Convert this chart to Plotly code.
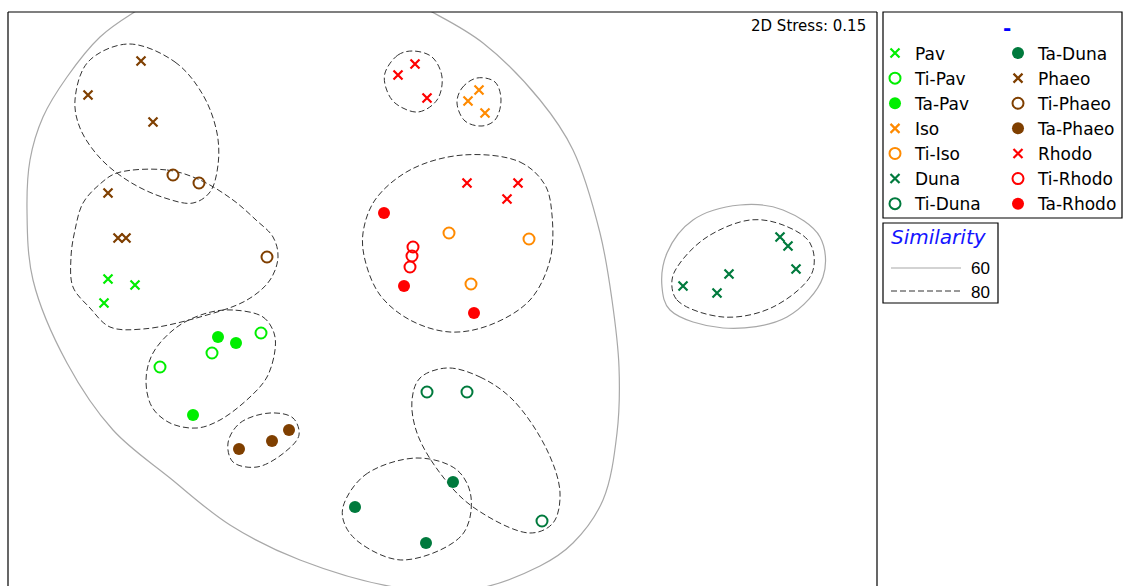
import plotly.graph_objects as go

# ---------------- data (MDS coordinates) ----------------
PAV_X = [-3.32, -3.05, -3.36];            PAV_Y = [0.21, 0.15, -0.03]
TI_PAV_X = [-1.79, -2.28, -2.80];         TI_PAV_Y = [-0.33, -0.53, -0.67]
TA_PAV_X = [-2.22, -2.04, -2.47];         TA_PAV_Y = [-0.37, -0.43, -1.15]
ISO_X = [0.28, 0.39, 0.45];               ISO_Y = [1.99, 2.10, 1.87]
TI_ISO_X = [0.09, 0.89, 0.31];            TI_ISO_Y = [0.67, 0.61, 0.16]
DUNA_X = [3.40, 3.48, 3.56, 2.89, 2.43, 2.77]
DUNA_Y = [0.63, 0.54, 0.31, 0.26, 0.14, 0.07]
TI_DUNA_X = [-0.13, 0.27, 1.02];          TI_DUNA_Y = [-0.92, -0.92, -2.21]
TA_DUNA_X = [0.13, -0.85, -0.14];         TA_DUNA_Y = [-1.82, -2.07, -2.43]
PHAEO_X = [-2.99, -3.52, -2.87, -3.32, -3.22, -3.14]
PHAEO_Y = [2.39, 2.05, 1.78, 1.07, 0.62, 0.62]
TI_PHAEO_X = [-2.67, -2.41, -1.73];       TI_PHAEO_Y = [1.25, 1.17, 0.43]
TA_PHAEO_X = [-2.01, -1.68, -1.51];       TA_PHAEO_Y = [-1.49, -1.41, -1.30]
RHODO_X = [-0.42, -0.25, -0.13, 0.27, 0.78, 0.67]
RHODO_Y = [2.25, 2.36, 2.02, 1.17, 1.17, 1.01]
TI_RHODO_X = [-0.27, -0.28, -0.30];       TI_RHODO_Y = [0.53, 0.44, 0.33]
TA_RHODO_X = [-0.56, -0.36, 0.34];        TA_RHODO_Y = [0.87, 0.14, -0.13]

STRESS = 0.15
SIM_LEVELS = ["60", "80"]

# similarity contours (closed outlines)
CONTOURS_60 = [
    [(-3.07, 2.87), (-3.40, 2.63), (-3.73, 2.23), (-3.97, 1.83), (-4.10, 1.40),
     (-4.13, 0.90), (-4.07, 0.20), (-3.73, -0.63), (-3.27, -1.30), (-2.70, -1.78),
     (-2.10, -2.25), (-1.40, -2.60), (-0.40, -2.88), (0.30, -2.90), (1.00, -2.66),
     (1.33, -2.43), (1.63, -2.00), (1.77, -1.33), (1.79, -0.67), (1.72, 0.00),
     (1.60, 0.67), (1.33, 1.50), (1.00, 2.00), (0.43, 2.57), (-0.08, 2.88),
     (-0.70, 3.18), (-1.60, 3.35), (-2.50, 3.18)],
    [(2.22, 0.13), (2.30, -0.10), (2.83, -0.28), (3.47, -0.17), (3.83, 0.23),
     (3.80, 0.63), (3.43, 0.90), (3.00, 0.95), (2.53, 0.80), (2.27, 0.47)],
]
CONTOURS_80 = [
    [(-3.12, 2.56), (-2.65, 2.38), (-2.37, 2.05), (-2.23, 1.67), (-2.22, 1.35),
     (-2.30, 1.08), (-2.47, 0.97), (-2.75, 1.02), (-3.10, 1.18), (-3.40, 1.42),
     (-3.60, 1.72), (-3.65, 2.00), (-3.52, 2.38)],
    [(-3.23, 1.27), (-2.73, 1.30), (-2.40, 1.20), (-2.07, 1.00), (-1.84, 0.80),
     (-1.67, 0.63), (-1.62, 0.43), (-1.70, 0.20), (-1.93, 0.00), (-2.40, -0.17),
     (-2.97, -0.29), (-3.30, -0.27), (-3.50, -0.08), (-3.67, 0.13), (-3.69, 0.43),
     (-3.65, 0.70), (-3.57, 0.97), (-3.40, 1.16)],
    [(-2.07, -0.10), (-1.77, -0.17), (-1.66, -0.33), (-1.65, -0.50), (-1.73, -0.77),
     (-1.90, -0.97), (-2.20, -1.20), (-2.43, -1.28), (-2.70, -1.23), (-2.88, -1.07),
     (-2.94, -0.80), (-2.87, -0.53), (-2.63, -0.27), (-2.33, -0.13)],
    [(-2.12, -1.43), (-2.00, -1.23), (-1.70, -1.13), (-1.47, -1.18), (-1.41, -1.35),
     (-1.55, -1.52), (-1.83, -1.67), (-2.07, -1.62)],
    [(-0.55, 2.27), (-0.42, 2.45), (-0.27, 2.49), (-0.08, 2.43), (0.02, 2.23),
     (-0.03, 2.00), (-0.22, 1.88), (-0.45, 1.97), (-0.54, 2.12)],
    [(0.17, 1.97), (0.22, 2.12), (0.37, 2.22), (0.55, 2.18), (0.61, 2.00),
     (0.55, 1.80), (0.42, 1.74), (0.25, 1.79)],
    [(0.23, 1.45), (0.80, 1.38), (1.05, 1.15), (1.12, 0.85), (1.10, 0.40),
     (0.90, 0.00), (0.50, -0.25), (0.10, -0.32), (-0.30, -0.20), (-0.60, 0.05),
     (-0.75, 0.40), (-0.77, 0.67), (-0.65, 1.00), (-0.30, 1.30)],
    [(0.07, -0.68), (0.40, -0.77), (0.73, -1.00), (1.07, -1.50), (1.20, -1.93),
     (1.13, -2.23), (0.90, -2.33), (0.33, -2.07), (0.00, -1.73), (-0.23, -1.33),
     (-0.28, -1.00), (-0.20, -0.78)],
    [(-0.97, -2.07), (-0.75, -1.75), (-0.23, -1.58), (0.17, -1.70), (0.31, -1.97),
     (0.22, -2.35), (-0.37, -2.60), (-0.80, -2.43), (-0.95, -2.25)],
    [(2.32, 0.20), (2.37, 0.00), (2.83, -0.17), (3.33, -0.07), (3.72, 0.27),
     (3.70, 0.57), (3.43, 0.75), (3.10, 0.80), (2.67, 0.63), (2.40, 0.37)],
]

# ---------------- styles ----------------
LIME = "#00EE00"
ORANGE = "#FF8A00"
DGREEN = "#007A3D"
BROWN = "#7F3F00"
RED = "#FF0000"
FONT = "DejaVu Sans"

X_SYM = dict(symbol="x-thin-open", size=9, line=dict(width=2.2))
O_SYM = dict(symbol="circle-open", size=11, line=dict(width=2))
F_SYM = dict(symbol="circle", size=12, line=dict(width=0))

groups = [
    ("Pav", PAV_X, PAV_Y, LIME, X_SYM, "legend"),
    ("Ti-Pav", TI_PAV_X, TI_PAV_Y, LIME, O_SYM, "legend"),
    ("Ta-Pav", TA_PAV_X, TA_PAV_Y, LIME, F_SYM, "legend"),
    ("Iso", ISO_X, ISO_Y, ORANGE, X_SYM, "legend"),
    ("Ti-Iso", TI_ISO_X, TI_ISO_Y, ORANGE, O_SYM, "legend"),
    ("Duna", DUNA_X, DUNA_Y, DGREEN, X_SYM, "legend"),
    ("Ti-Duna", TI_DUNA_X, TI_DUNA_Y, DGREEN, O_SYM, "legend"),
    ("Ta-Duna", TA_DUNA_X, TA_DUNA_Y, DGREEN, F_SYM, "legend2"),
    ("Phaeo", PHAEO_X, PHAEO_Y, BROWN, X_SYM, "legend2"),
    ("Ti-Phaeo", TI_PHAEO_X, TI_PHAEO_Y, BROWN, O_SYM, "legend2"),
    ("Ta-Phaeo", TA_PHAEO_X, TA_PHAEO_Y, BROWN, F_SYM, "legend2"),
    ("Rhodo", RHODO_X, RHODO_Y, RED, X_SYM, "legend2"),
    ("Ti-Rhodo", TI_RHODO_X, TI_RHODO_Y, RED, O_SYM, "legend2"),
    ("Ta-Rhodo", TA_RHODO_X, TA_RHODO_Y, RED, F_SYM, "legend2"),
]


def closed_path(contours):
    xs, ys = [], []
    for c in contours:
        pts = list(c) + [c[0]]
        xs += [p[0] for p in pts] + [None]
        ys += [p[1] for p in pts] + [None]
    return xs, ys


fig = go.Figure()

x60, y60 = closed_path(CONTOURS_60)
fig.add_trace(go.Scatter(x=x60, y=y60, mode="lines", name=SIM_LEVELS[0],
                         line=dict(color="#A8A8A8", width=1.2, shape="spline"),
                         showlegend=False, hoverinfo="skip"))
x80, y80 = closed_path(CONTOURS_80)
fig.add_trace(go.Scatter(x=x80, y=y80, mode="lines", name=SIM_LEVELS[1],
                         line=dict(color="#333333", width=1, dash="6px,3px", shape="spline"),
                         showlegend=False, hoverinfo="skip"))

for name, xs, ys, col, sym, leg in groups:
    m = dict(sym)
    m["color"] = col
    m["line"] = dict(sym["line"], color=col)
    fig.add_trace(go.Scatter(x=xs, y=ys, mode="markers", name=name, marker=m,
                             legend=leg, cliponaxis=False))

# ---------------- layout ----------------
W, H = 1123, 586
L, R, T, B = 8, 246, 12, 0
PW, PH = W - L - R, H - T - B


def px(x):
    return (x - L) / PW


def py(y):
    return (H - B - y) / PH


leg_common = dict(xref="paper", yref="paper", xanchor="left", yanchor="top",
                  bgcolor="rgba(0,0,0,0)", borderwidth=0, tracegroupgap=0,
                  font=dict(family=FONT, size=17, color="#000000"))

fig.update_layout(
    width=W, height=H,
    margin=dict(l=L, r=R, t=T, b=B, autoexpand=False),
    paper_bgcolor="white", plot_bgcolor="white",
    xaxis=dict(range=[-4.32, 4.37], showgrid=False, zeroline=False,
               showticklabels=False, showline=False, ticks=""),
    yaxis=dict(range=[-2.86, 2.88], showgrid=False, zeroline=False,
               showticklabels=False, showline=False, ticks=""),
    legend=dict(leg_common, x=px(875), y=py(35.5)),
    legend2=dict(leg_common, x=px(998), y=py(35.5)),
    showlegend=True,
)

# plot frame (bottom edge lies outside the picture)
frame = dict(type="line", xref="paper", yref="paper", line=dict(color="black", width=1.2))
fig.add_shape(frame, x0=0, x1=0, y0=0, y1=1)
fig.add_shape(frame, x0=0, x1=1, y0=1, y1=1)
fig.add_shape(frame, x0=1, x1=1, y0=0, y1=1)

# legend boxes
fig.add_shape(type="rect", xref="paper", yref="paper", x0=px(883), x1=px(1122),
              y0=py(218), y1=py(12), line=dict(color="black", width=1.2))
fig.add_shape(type="rect", xref="paper", yref="paper", x0=px(883), x1=px(998),
              y0=py(303), y1=py(223), line=dict(color="black", width=1.2))
fig.add_shape(type="line", xref="paper", yref="paper", x0=px(891), x1=px(961),
              y0=py(268), y1=py(268), line=dict(color="#A8A8A8", width=1.2))
fig.add_shape(type="line", xref="paper", yref="paper", x0=px(891), x1=px(961),
              y0=py(291), y1=py(291), line=dict(color="#333333", width=1, dash="6px,3px"))

ann = dict(xref="paper", yref="paper", showarrow=False)
fig.add_annotation(ann, x=px(868), y=py(26), xanchor="right", yanchor="middle",
                   text=f"2D Stress: {STRESS:.2f}", font=dict(family=FONT, size=15, color="#000000"))
fig.add_annotation(ann, x=px(1007), y=py(28), xanchor="center", yanchor="middle",
                   text="<b>-</b>", font=dict(family=FONT, size=20, color="#0000FF"))
fig.add_annotation(ann, x=px(889), y=py(237), xanchor="left", yanchor="middle",
                   text="<i>Similarity</i>", font=dict(family=FONT, size=20, color="#1515FF"))
fig.add_annotation(ann, x=px(992), y=py(268), xanchor="right", yanchor="middle",
                   text=SIM_LEVELS[0], font=dict(family="Liberation Sans", size=17, color="#000000"))
fig.add_annotation(ann, x=px(992), y=py(292), xanchor="right", yanchor="middle",
                   text=SIM_LEVELS[1], font=dict(family="Liberation Sans", size=17, color="#000000"))

fig.write_html("out.html",
               config={"displayModeBar": False},
               post_script="document.body.style.margin='0px';document.body.style.padding='0px';")
